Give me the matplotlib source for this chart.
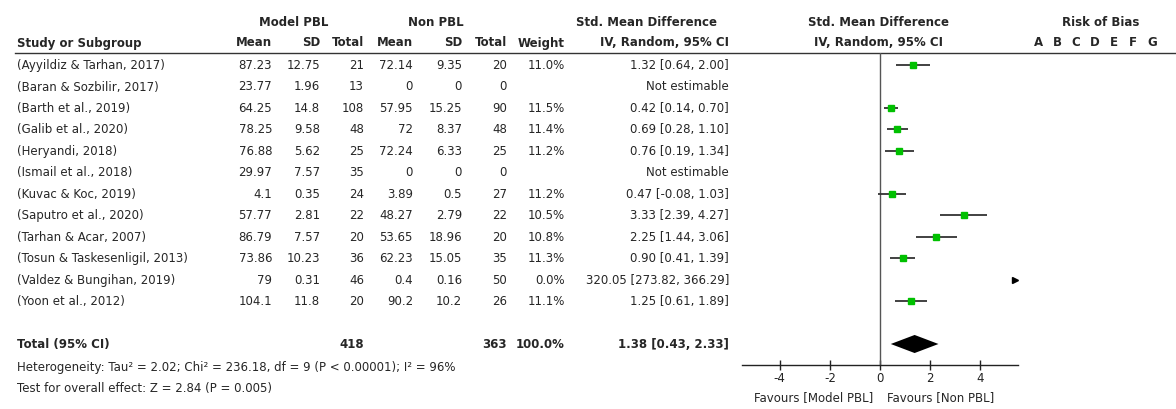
import matplotlib
matplotlib.use("Agg")
import matplotlib.pyplot as plt

plt.rcParams['font.family'] = ['DejaVu Sans']

studies = ["(Ayyildiz & Tarhan, 2017)", "(Baran & Sozbilir, 2017)", "(Barth et al., 2019)",
           "(Galib et al., 2020)", "(Heryandi, 2018)", "(Ismail et al., 2018)",
           "(Kuvac & Koc, 2019)", "(Saputro et al., 2020)", "(Tarhan & Acar, 2007)",
           "(Tosun & Taskesenligil, 2013)", "(Valdez & Bungihan, 2019)", "(Yoon et al., 2012)"]
model_mean = [87.23, 23.77, 64.25, 78.25, 76.88, 29.97, 4.1, 57.77, 86.79, 73.86, 79, 104.1]
model_sd = [12.75, 1.96, 14.8, 9.58, 5.62, 7.57, 0.35, 2.81, 7.57, 10.23, 0.31, 11.8]
model_n = [21, 13, 108, 48, 25, 35, 24, 22, 20, 36, 46, 20]
non_mean = [72.14, 0, 57.95, 72, 72.24, 0, 3.89, 48.27, 53.65, 62.23, 0.4, 90.2]
non_sd = [9.35, 0, 15.25, 8.37, 6.33, 0, 0.5, 2.79, 18.96, 15.05, 0.16, 10.2]
non_n = [20, 0, 90, 48, 25, 0, 27, 22, 20, 35, 50, 26]
weight = [11.0, None, 11.5, 11.4, 11.2, None, 11.2, 10.5, 10.8, 11.3, 0.0, 11.1]
smd = [1.32, None, 0.42, 0.69, 0.76, None, 0.47, 3.33, 2.25, 0.90, 320.05, 1.25]
ci_lo = [0.64, None, 0.14, 0.28, 0.19, None, -0.08, 2.39, 1.44, 0.41, 273.82, 0.61]
ci_hi = [2.00, None, 0.70, 1.10, 1.34, None, 1.03, 4.27, 3.06, 1.39, 366.29, 1.89]

total_model_n = 418
total_non_n = 363
total_smd = 1.38
total_lo = 0.43
total_hi = 2.33
heterogeneity = "Heterogeneity: Tau\u00b2 = 2.02; Chi\u00b2 = 236.18, df = 9 (P < 0.00001); I\u00b2 = 96%"
overall = "Test for overall effect: Z = 2.84 (P = 0.005)"
xticks = [-4, -2, 0, 2, 4]
xlim = (-5.5, 5.5)
rob_letters = ["A", "B", "C", "D", "E", "F", "G"]

W, H = 1176, 410
fig = plt.figure(figsize=(W / 100, H / 100), dpi=100)
tx = fig.add_axes([0, 0, 1, 1])
tx.set_xlim(0, W)
tx.set_ylim(H, 0)
tx.axis("off")

fs = 8.5
col = "#262626"
row0, dy = 65.5, 21.5


def ry(i):
    return row0 + dy * i


def txt(x, y, s, ha="right", bold=False):
    tx.text(x, y, s, ha=ha, va="center", fontsize=fs, color=col,
            fontweight="bold" if bold else "normal")


def num(v):
    return f"{v:g}"


# headers
txt(294, 22, "Model PBL", ha="center", bold=True)
txt(436, 22, "Non PBL", ha="center", bold=True)
txt(647, 22, "Std. Mean Difference", ha="center", bold=True)
txt(878, 22, "Std. Mean Difference", ha="center", bold=True)
txt(1101, 22, "Risk of Bias", ha="center", bold=True)
txt(17, 43, "Study or Subgroup", ha="left", bold=True)
for x, s in [(272, "Mean"), (320, "SD"), (364, "Total"), (413, "Mean"), (462, "SD"),
             (507, "Total"), (565, "Weight"), (729, "IV, Random, 95% CI")]:
    txt(x, 43, s, bold=True)
txt(878, 43, "IV, Random, 95% CI", ha="center", bold=True)
for k, letter in enumerate(rob_letters):
    txt(1038 + 19 * k, 43, letter, ha="center", bold=True)
tx.plot([15, W], [54, 54], color="#333333", lw=1)

# study rows
for i, name in enumerate(studies):
    y = ry(i)
    txt(17, y, name, ha="left")
    txt(272, y, num(model_mean[i]))
    txt(320, y, num(model_sd[i]))
    txt(364, y, str(model_n[i]))
    txt(413, y, num(non_mean[i]))
    txt(462, y, num(non_sd[i]))
    txt(507, y, str(non_n[i]))
    if weight[i] is not None:
        txt(565, y, f"{weight[i]:.1f}%")
    if smd[i] is None:
        txt(729, y, "Not estimable")
    else:
        txt(729, y, f"{smd[i]:.2f} [{ci_lo[i]:.2f}, {ci_hi[i]:.2f}]")

yt = ry(13)
txt(17, yt, "Total (95% CI)", ha="left", bold=True)
txt(364, yt, str(total_model_n), bold=True)
txt(507, yt, str(total_non_n), bold=True)
txt(565, yt, "100.0%", bold=True)
txt(729, yt, f"{total_smd:.2f} [{total_lo:.2f}, {total_hi:.2f}]", bold=True)
txt(17, 368, heterogeneity, ha="left")
txt(17, 389, overall, ha="left")
txt(873, 398, "Favours [Model PBL]", ha="right")
txt(887, 398, "Favours [Non PBL]", ha="left")

# forest plot
left, right, top, bottom = 742, 1018, 54, 366
fx = fig.add_axes([left / W, 1 - bottom / H, (right - left) / W, (bottom - top) / H])
fx.set_facecolor("none")
fx.set_xlim(*xlim)
fx.set_ylim((bottom - row0) / dy, (top - row0) / dy)
for s in ["top", "left", "right"]:
    fx.spines[s].set_visible(False)
fx.spines["bottom"].set_color("#222222")
fx.spines["bottom"].set_linewidth(1)
fx.set_yticks([])
fx.set_xticks(xticks)
fx.set_xticklabels([str(t) for t in xticks])
fx.tick_params(axis="x", direction="inout", length=7, width=1, colors="#222222",
               labelsize=fs, pad=1)
fx.axvline(0, color="#555555", lw=1)

for i in range(len(studies)):
    if smd[i] is None:
        continue
    if smd[i] > xlim[1]:
        fx.plot([xlim[1] - 0.1], [i], marker=">", color="black", ms=4, clip_on=False)
        continue
    fx.plot([ci_lo[i], ci_hi[i]], [i, i], color="#333333", lw=1.3, solid_capstyle="butt")
    fx.plot([smd[i]], [i], marker="s", color="#00c000", ms=3.8, mec="#00c000")

fx.fill([total_lo, total_smd, total_hi, total_smd], [13, 13 - 0.42, 13, 13 + 0.42],
        color="black", lw=0)

fig.savefig("out.png", dpi=100)
